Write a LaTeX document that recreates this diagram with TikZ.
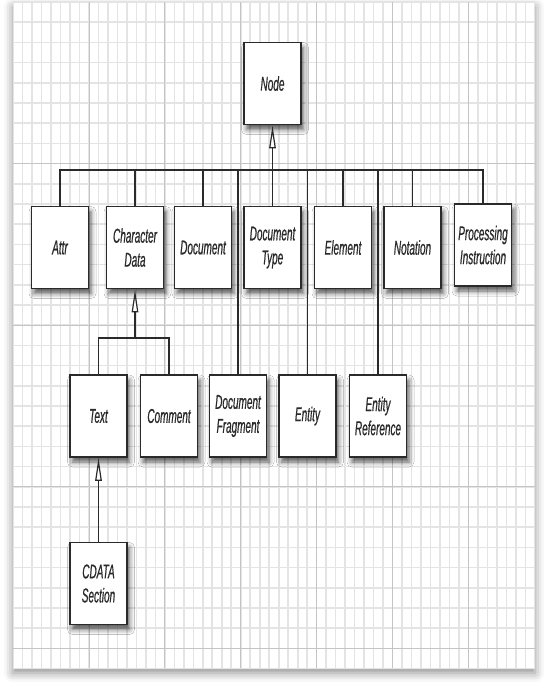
\documentclass[tikz,border=0pt]{standalone}
\usepackage{fontspec}
\setmainfont{Liberation Sans}[FakeStretch=0.5,FakeBold=0.6]
\usetikzlibrary{arrows.meta,shadows.blur}
\definecolor{minorgrid}{HTML}{E4E4E4}
\definecolor{majorgrid}{HTML}{C4C4C4}
\definecolor{ink}{HTML}{2A2A2A}
\begin{document}
\begin{tikzpicture}[x=1pt,y=-1pt,
  cls/.style={draw=ink, line width=1.5pt, fill=white, minimum width=57pt,
    minimum height=82pt, inner sep=0pt, align=center,
    font=\fontsize{20}{24}\selectfont\itshape, text=ink,
    blur shadow={shadow xshift=2.5pt, shadow yshift=-5pt, shadow blur radius=5pt, shadow opacity=65}},
  conn/.style={draw=ink, line width=1.2pt},
  inh/.style={conn, -{Triangle[length=23pt, width=6.5pt, fill=white, line width=1.2pt]}},
  minorline/.style={draw=minorgrid, line width=1.6pt},
  majorline/.style={draw=majorgrid, line width=0.8pt}]
\useasboundingbox (0,0) rectangle (554,682);
% paper
\fill[white, blur shadow={shadow xshift=0pt, shadow yshift=-5pt, shadow blur radius=9pt, shadow opacity=45}] (13,2) rectangle (535,668);
\begin{scope}
\clip (13,2) rectangle (535,668);
\foreach \k in {0,...,55} {\draw[minorline] ({13+9.49*\k},2) -- ({13+9.49*\k},668);}
\foreach \k in {0,...,33} {\draw[minorline] (13,{2+20.2*\k}) -- (535,{2+20.2*\k});}
\foreach \k in {1,...,6} {\draw[majorline] ({13+75.9*\k},2) -- ({13+75.9*\k},668);}
\foreach \k in {1,...,4} {\draw[majorline] (13,{2+161.6*\k}) -- (535,{2+161.6*\k});}
\end{scope}
% nodes
\node[cls] (node) at (272.5,83.5) {Node};
\node[cls] (attr) at (60,247.5) {Attr};
\node[cls] (chardata) at (135,247.5) {Character\\Data};
\node[cls] (document) at (203,247.5) {Document};
\node[cls] (doctype) at (272.5,247.5) {Document\\Type};
\node[cls] (element) at (343,247.5) {Element};
\node[cls] (notation) at (412.5,247.5) {Notation};
\node[cls] (pi) at (483,245) {Processing\\Instruction};
\node[cls] (text) at (98.5,416) {Text};
\node[cls] (comment) at (169,416) {Comment};
\node[cls] (docfrag) at (238,416) {Document\\Fragment};
\node[cls] (entity) at (307.5,416) {Entity};
\node[cls] (entref) at (378,416) {Entity\\Reference};
\node[cls] (cdata) at (98.5,583.5) {CDATA\\Section};
% buses
\coordinate (bus) at (272.5,170);
\coordinate (cbus) at (135,338);
\draw[conn] (attr.north) |- (bus) -| (pi.north);
\foreach \c in {chardata,document,doctype,element,notation} {\draw[conn] (\c.north) -- (\c.north |- bus);}
\foreach \c in {docfrag,entity,entref} {\draw[conn] (\c.north) -- (\c.north |- bus);}
\draw[inh] (bus) -- (node.south);
\draw[conn] (text.north) |- (cbus) -| (comment.north);
\draw[inh] (cbus) -- (chardata.south);
\draw[inh] (cdata.north) -- (text.south);
\end{tikzpicture}
\end{document}
